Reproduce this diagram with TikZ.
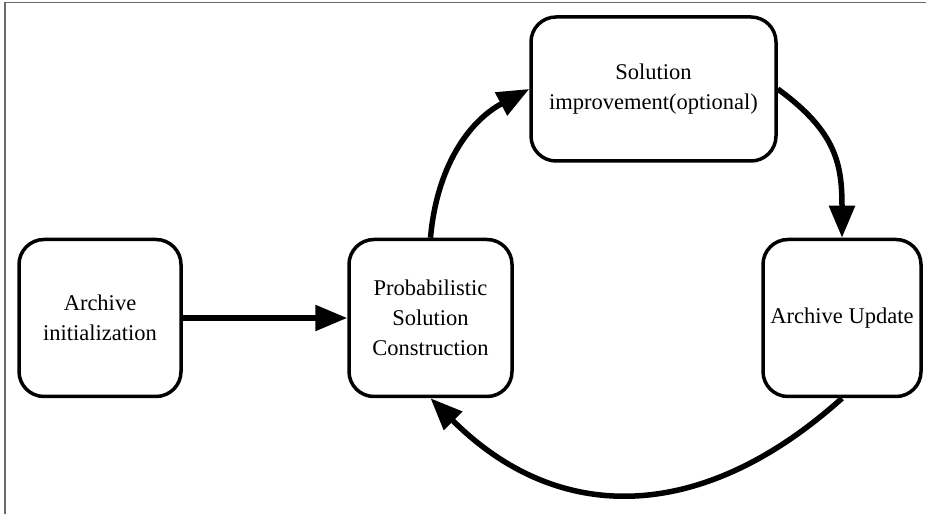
\documentclass[tikz,border=0pt]{standalone}
\usepackage{fontspec}
\setmainfont{Liberation Serif}
\usetikzlibrary{arrows.meta}
\begin{document}
\begin{tikzpicture}[x=1pt,y=1pt,
  stage/.style={draw=black, line width=3.5pt, rounded corners=25pt,
    fill=white, align=center, inner sep=0pt,
    font=\fontsize{22.5}{30}\selectfont},
  flow/.style={line width=5.5pt,
    -{Triangle[length=32pt,width=25pt]}},
  frameline/.style={draw=black!58, line width=1.5pt}]
  % page area and its partial frame
  \useasboundingbox (0,0) rectangle (926,514);
  \draw[frameline] (5,0) -- (5,511.5) -- (926,511.5);

  % the four stages
  \node[stage, minimum width=162pt, minimum height=157pt] (init) at (100,196)
    {Archive\\initialization};
  \node[stage, minimum width=163pt, minimum height=157pt] (constr) at (430.5,196)
    {Probabilistic\\Solution\\Construction};
  \node[stage, minimum width=245pt, minimum height=144pt] (improve) at (653.5,425)
    {Solution\\improvement(optional)};
  \node[stage, minimum width=158pt, minimum height=157pt] (update) at (842,196)
    {Archive Update};

  % the cycle
  \draw[flow] (init.east) -- (constr.west);
  \draw[flow] (constr.north) to[out=85, in=208] (improve.west);
  \draw[flow] (improve.east) to[out=-36, in=90, looseness=1.15] (update.north);
  \draw[flow] (update.south) .. controls +(222:184pt) and +(-45:184pt) .. (constr.south);
\end{tikzpicture}
\end{document}
